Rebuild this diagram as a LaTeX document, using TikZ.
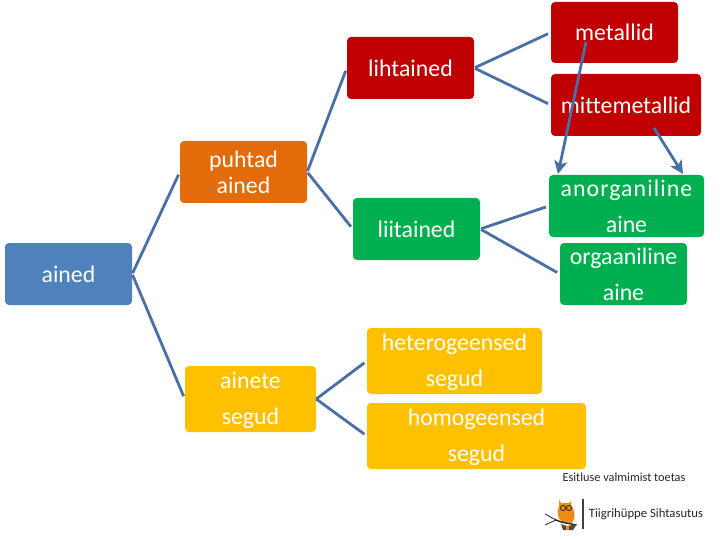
\documentclass[tikz,border=0pt]{standalone}
\usepackage{fontspec}
\setmainfont{Carlito}[Ligatures=NoCommon]
\definecolor{cred}{HTML}{C00000}
\definecolor{corange}{HTML}{E36C0A}
\definecolor{cgreen}{HTML}{00B050}
\definecolor{cblue}{HTML}{4F81BD}
\definecolor{cyellow}{HTML}{FFC000}
\definecolor{cline}{HTML}{4A6FA5}
\definecolor{cowl}{HTML}{F08A10}
\usetikzlibrary{arrows.meta}
\tikzset{
  box/.style={rectangle,rounded corners=4pt,text=white,inner sep=0pt,align=center,font=\fontsize{23.8}{26}\selectfont},
  wide/.style={font=\fontsize{23.8}{36}\selectfont},
  conn/.style={draw=cline,line width=2.8pt,shorten >=3pt,shorten <=1pt},
  arr/.style={draw=cline,line width=2.8pt,-{Stealth[length=13pt,width=13pt,inset=3pt]}},
  small/.style={inner sep=0pt,text=black!85,font=\fontsize{12.3}{14}\selectfont}
}
\begin{document}
\begin{tikzpicture}[x=1pt,y=-1pt]
\useasboundingbox (0,0) rectangle (720,540);
\def\bx#1#2#3#4#5#6#7{\node[box,#2,fill=#3,minimum width=#6pt-#4pt,minimum height=#7pt-#5pt] (#1) at ({(#4+#6)/2},{(#5+#7)/2})}
\bx{metallid}{}{cred}{551}{2}{678}{63}{metallid};
\bx{mitte}{}{cred}{551}{74}{701}{136}{mittemetallid};
\bx{liht}{}{cred}{347}{37}{474}{99}{lihtained};
\bx{puhtad}{}{corange}{180}{141}{307}{203}{puhtad\\ained};
\bx{liit}{}{cgreen}{353}{198}{480}{260}{liitained};
\bx{anorg}{wide}{cgreen}{549}{175}{704}{237}{{\addfontfeature{LetterSpace=4.5}anorganiline}\\aine};
\bx{orga}{wide}{cgreen}{560}{243}{687}{305}{orgaaniline\\aine};
\bx{ained}{}{cblue}{5}{243}{132}{305}{ained};
\bx{hetero}{wide}{cyellow}{367}{328}{542}{394}{\rule{0pt}{20pt}heterogeensed\\segud};
\bx{segud}{wide}{cyellow}{185}{366}{316}{432}{\rule{0pt}{20pt}ainete\\segud};
\bx{homo}{wide}{cyellow}{367}{403}{586}{469}{\rule{0pt}{20pt}homogeensed\\segud};
\draw[conn] (ained.east) -- (puhtad.west);
\draw[conn] (ained.east) -- (segud.west);
\draw[conn] (puhtad.east) -- (liht.west);
\draw[conn] (puhtad.east) -- (liit.west);
\draw[conn] (liht.east) -- (metallid.west);
\draw[conn] (liht.east) -- (mitte.west);
\draw[conn] (liit.east) -- (anorg.west);
\draw[conn] (liit.east) -- (orga.west);
\draw[conn,shorten <=0pt] (segud.east) -- (hetero.west);
\draw[conn,shorten <=0pt] (segud.east) -- (homo.west);
\coordinate (a1) at (586,42);
\coordinate (a2) at (558,174);
\coordinate (b1) at (654,128);
\coordinate (b2) at (683,174);
\draw[arr] (a1) -- (a2);
\draw[arr] (b1) -- (b2);
\node[small] (toetas) at (624,477) {Esitluse valmimist toetas};
\node[inner sep=0pt,text=black!85,font=\fontsize{12.7}{15}\selectfont] (tiiger) at (646,514) {Tiigrihüppe Sihtasutus};
% logo
\draw[black!75,line width=1.1pt] (583,499) -- (583,529);
\fill[cowl] (559,506) .. controls (556,512) and (558,519) .. (562,522) -- (572,523) .. controls (576,518) and (575,510) .. (571,505) -- (571,501) -- (569,503) -- (561,503) -- (559,500) -- cycle;
\draw[black!80,line width=.9pt] (563,508) circle (2.6pt) (569,508) circle (2.6pt);
\draw[black!85,line width=1.4pt,line cap=round] (556,520) .. controls (562,523) and (568,523) .. (576,525);
\draw[black!85,line width=.8pt] (556,520) -- (545,514) (556,520) -- (545,525);
\fill[black!70] (561,524) -- (567,526) -- (577,524) -- (573,530) -- (563,530) -- cycle;
\fill[cowl] (566,526) rectangle (569,529.5);
\end{tikzpicture}
\end{document}
